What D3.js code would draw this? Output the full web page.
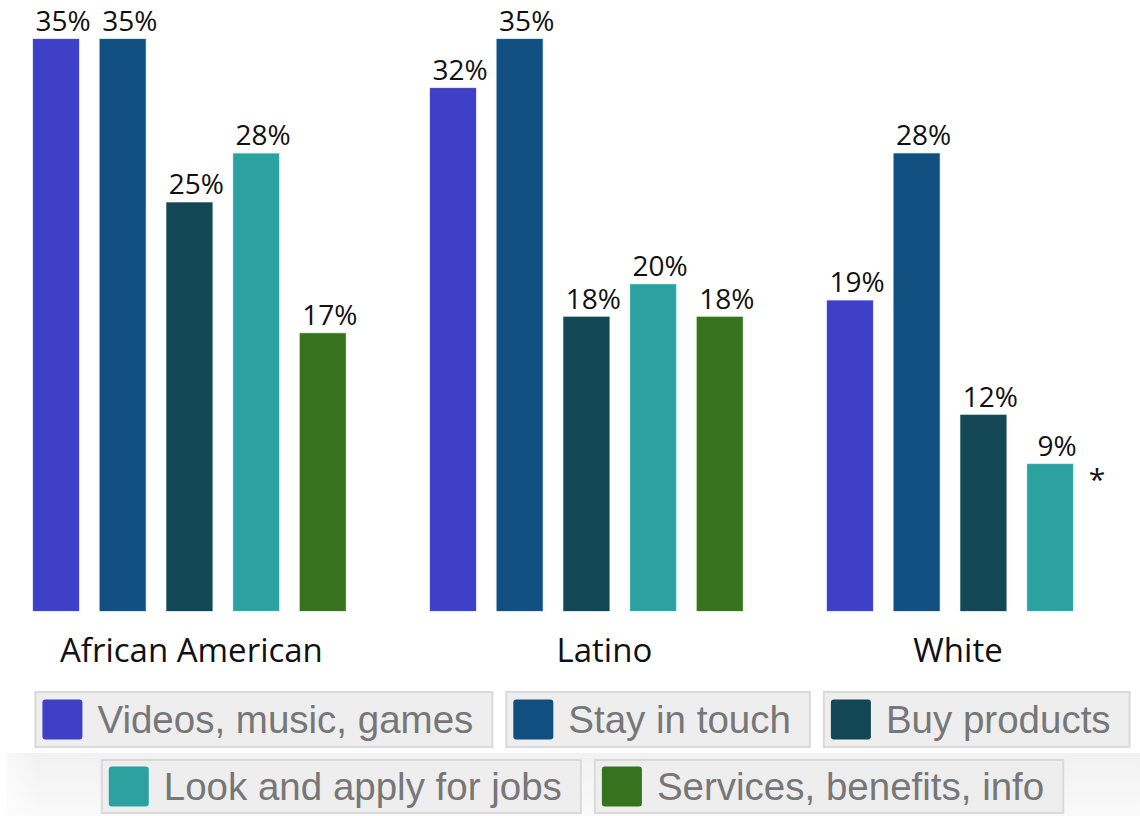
<!DOCTYPE html>
<html>
<head>
<meta charset="utf-8">
<script src="https://cdn.jsdelivr.net/npm/d3@7"></script>
<style>
  html, body { margin: 0; padding: 0; background: #ffffff; }
  svg { display: block; }
</style>
</head>
<body>
<svg id="chart" width="1140" height="816"></svg>
<script>
// ---- data ----
const groups = ["African American", "Latino", "White"];
const series = ["Videos, music, games", "Stay in touch", "Buy products", "Look and apply for jobs", "Services, benefits, info"];
const seriesColors = ["#3e40c7", "#124f81", "#134755", "#2ba29f", "#37721f"];
const africanAmerican = [35, 35, 25, 28, 17];
const latino = [32, 35, 18, 20, 18];
const white = [19, 28, 12, 9, null];
const groupValues = [africanAmerican, latino, white];
const footnoteMarks = [{ group: "White", series: "Look and apply for jobs", mark: "*" }];
const legendRows = [[0, 1, 2], [3, 4]];

// ---- layout ----
const svg = d3.select("#chart");
const baseline = 611;
const x0 = d3.scaleBand().domain(groups).range([33, 1139.8]).paddingInner(0.212).paddingOuter(0);
const x1 = d3.scaleBand().domain(series).range([0, x0.bandwidth()]).paddingInner(0.31).paddingOuter(0);
const y = d3.scaleLinear().domain([0, 35]).range([baseline, 39]);
const color = d3.scaleOrdinal().domain(series).range(seriesColors);
const labelNudge = [2, 18, 8];

const rows = [];
groups.forEach((g, gi) => {
  groupValues[gi].forEach((v, si) => {
    if (v == null) return;
    rows.push({ group: g, series: series[si], value: v });
  });
});

const barG = svg.append("g");
barG.selectAll("rect").data(rows).join("rect")
  .attr("x", d => x0(d.group) + x1(d.series))
  .attr("y", d => y(d.value))
  .attr("width", x1.bandwidth())
  .attr("height", d => baseline - y(d.value))
  .attr("fill", d => color(d.series))
  .attr("stroke", d => d3.color(color(d.series)).brighter(0.8))
  .attr("stroke-opacity", 0.35)
  .attr("stroke-width", 1);

svg.append("g").selectAll("text").data(rows).join("text")
  .attr("x", d => x0(d.group) + x1(d.series) + x1.bandwidth() / 2 + 7)
  .attr("y", d => y(d.value) - 8)
  .attr("text-anchor", "middle")
  .attr("font-family", "'Open Sans', sans-serif")
  .attr("font-size", 28)
  .attr("fill", "#111")
  .text(d => d.value + "%");

// footnote mark
svg.append("g").selectAll("text").data(footnoteMarks).join("text")
  .attr("x", d => x0(d.group) + x1(d.series) + x1.bandwidth() + 24)
  .attr("y", d => {
    const gi = groups.indexOf(d.group), si = series.indexOf(d.series);
    return y(groupValues[gi][si]) + 26;
  })
  .attr("text-anchor", "middle")
  .attr("font-family", "'Open Sans', sans-serif")
  .attr("font-size", 30)
  .attr("fill", "#111")
  .text(d => d.mark);

// group labels
svg.append("g").selectAll("text").data(groups).join("text")
  .attr("x", (g, gi) => {
    const present = series.filter((s, si) => groupValues[gi][si] != null);
    const first = x1(present[0]);
    const last = x1(present[present.length - 1]) + x1.bandwidth();
    return x0(g) + (first + last) / 2 + labelNudge[gi];
  })
  .attr("y", 662)
  .attr("text-anchor", "middle")
  .attr("font-family", "'Open Sans', sans-serif")
  .attr("font-size", 33)
  .attr("fill", "#111")
  .text(g => g);

// ---- legend ----
const defs = svg.append("defs");
const grad = defs.append("linearGradient").attr("id", "bandGrad").attr("x1", 0).attr("x2", 0).attr("y1", 0).attr("y2", 1);
grad.append("stop").attr("offset", "0%").attr("stop-color", "#f1f1f1");
grad.append("stop").attr("offset", "100%").attr("stop-color", "#fafafa");
const gradH = defs.append("linearGradient").attr("id", "bandGradH").attr("x1", 0).attr("x2", 1).attr("y1", 0).attr("y2", 0);
gradH.append("stop").attr("offset", "0%").attr("stop-color", "#ffffff").attr("stop-opacity", 0.6);
gradH.append("stop").attr("offset", "3%").attr("stop-color", "#ffffff").attr("stop-opacity", 0);
gradH.append("stop").attr("offset", "100%").attr("stop-color", "#ffffff").attr("stop-opacity", 0);

svg.append("rect").attr("x", 6).attr("y", 753).attr("width", 1134).attr("height", 63).attr("fill", "url(#bandGrad)");
svg.append("rect").attr("x", 6).attr("y", 753).attr("width", 1134).attr("height", 63).attr("fill", "url(#bandGradH)");

const legendCenter = 582.5;
const rowY = [692, 760];
const rowH = [55, 53];
const gap = 14;
legendRows.forEach((row, ri) => {
  const lg = svg.append("g");
  const items = row.map(si => {
    const g = lg.append("g");
    const box = g.append("rect");
    const sw = g.append("rect");
    const t = g.append("text")
      .attr("font-family", "'Liberation Sans', Arial, sans-serif")
      .attr("font-size", 38.5)
      .attr("fill", "#777")
      .text(series[si]);
    const w = 62 + t.node().getComputedTextLength() + 19;
    return { g, box, sw, t, w, si };
  });
  const total = d3.sum(items, d => d.w) + gap * (items.length - 1);
  let cx = legendCenter - total / 2;
  items.forEach(it => {
    it.box.attr("x", cx).attr("y", rowY[ri]).attr("width", it.w).attr("height", rowH[ri])
      .attr("fill", "#eeeeee").attr("stroke", "#dadada").attr("stroke-width", 2);
    it.sw.attr("x", cx + 7).attr("y", rowY[ri] + rowH[ri] / 2 - 20).attr("width", 40).attr("height", 40)
      .attr("rx", 3).attr("fill", seriesColors[it.si]);
    it.t.attr("x", cx + 62).attr("y", rowY[ri] + rowH[ri] / 2 + 13);
    cx += it.w + gap;
  });
});
</script>
</body>
</html>
